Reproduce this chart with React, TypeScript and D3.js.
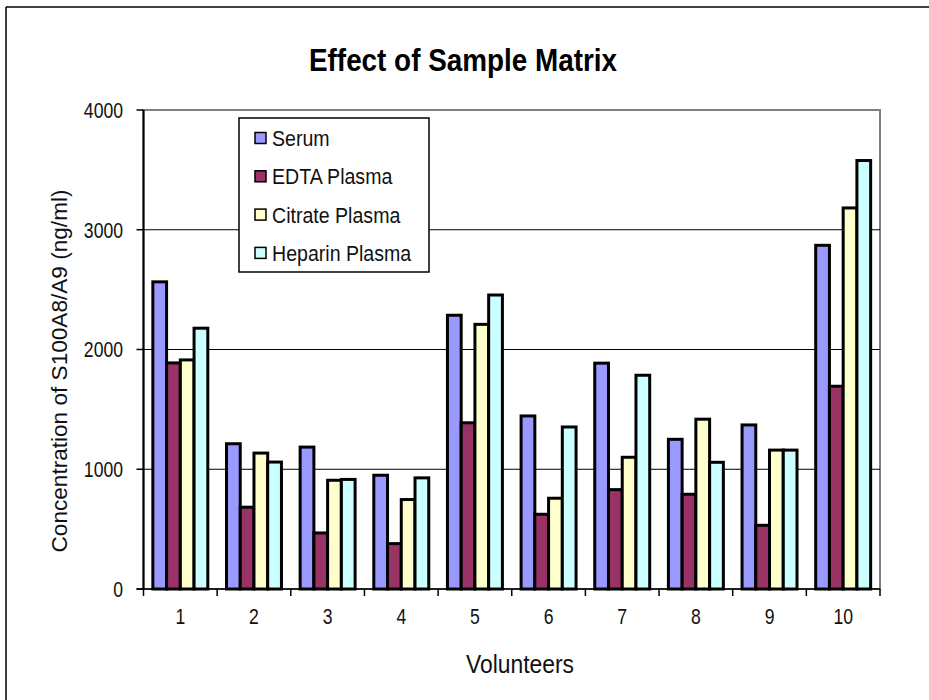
import * as d3 from "d3";
import * as React from "react";

// values
const volunteers = ["1", "2", "3", "4", "5", "6", "7", "8", "9", "10"];
const seriesNames = ["Serum", "EDTA Plasma", "Citrate Plasma", "Heparin Plasma"];
const serum = [2565, 1213, 1185, 950, 2286, 1445, 1886, 1250, 1370, 2870];
const edta = [1888, 683, 468, 379, 1388, 624, 830, 791, 532, 1693];
const citrate = [1913, 1135, 908, 747, 2210, 758, 1100, 1418, 1160, 3182];
const heparin = [2178, 1060, 915, 928, 2455, 1353, 1785, 1058, 1160, 3578];
const yTicks = [0, 1000, 2000, 3000, 4000];
const colors = ["#9999FF", "#993366", "#FFFFCC", "#CCFFFF"];

const W = 929;
const H = 700;
const margin = { top: 110, right: 49, bottom: 111, left: 143.5 };
const font = "'Liberation Sans Narrow', 'Liberation Sans', Arial, sans-serif";

export default function App() {
  const values = [serum, edta, citrate, heparin];

  const x0 = d3.scaleBand<string>()
    .domain(volunteers)
    .range([margin.left, W - margin.right])
    .padding(0);

  const x1 = d3.scaleBand<string>()
    .domain(seriesNames)
    .range([0, x0.bandwidth()])
    .paddingInner(0)
    .paddingOuter(0.68);

  const y = d3.scaleLinear()
    .domain([0, 4000])
    .range([H - margin.bottom, margin.top]);

  const left = margin.left;
  const right = W - margin.right;
  const top = margin.top;
  const bottom = H - margin.bottom;

  // the reference font is a condensed sans, so squeeze the glyphs a little
  const squeeze = 0.8;

  return (
    <div style={{ position: "absolute", left: 0, top: 0 }}>
      <svg width={W} height={H} style={{ display: "block", background: "white" }}>
        {/* outer frame (only top and left visible) */}
        <line x1={6} y1={7} x2={W} y2={7} stroke="black" strokeWidth={1.5} />
        <line x1={6} y1={7} x2={6} y2={H} stroke="black" strokeWidth={1.5} />

        <text x={463} y={71} textAnchor="middle" fontFamily={font} fontWeight="bold"
          fontSize={32} textLength={308} lengthAdjust="spacingAndGlyphs">
          Effect of Sample Matrix
        </text>

        {/* plot area border */}
        <rect x={left} y={top} width={right - left} height={bottom - top}
          fill="white" stroke="#808080" strokeWidth={2} />

        {/* gridlines */}
        {yTicks.filter(t => t > 0 && t < 4000).map(t => (
          <line key={"g" + t} x1={left} x2={right} y1={y(t)} y2={y(t)} stroke="black" strokeWidth={1} />
        ))}

        {/* bars */}
        {volunteers.map((v, i) => (
          <g key={v} transform={`translate(${x0(v)},0)`}>
            {seriesNames.map((s, j) => (
              <rect key={s}
                x={x1(s)!}
                y={y(values[j][i])}
                width={x1.bandwidth()}
                height={y(0) - y(values[j][i])}
                fill={colors[j]}
                stroke="black"
                strokeWidth={3} />
            ))}
          </g>
        ))}

        {/* y axis */}
        <line x1={left} x2={left} y1={top} y2={bottom + 1} stroke="black" strokeWidth={2} />
        {yTicks.map(t => (
          <g key={"y" + t}>
            <line x1={left - 7} x2={left} y1={y(t)} y2={y(t)} stroke="black" strokeWidth={1.5} />
            <text transform={`translate(123,${y(t)}) scale(${squeeze},1)`} dy="0.36em" textAnchor="end"
              fontFamily={font} fontSize={22} fill="#111">
              {t}
            </text>
          </g>
        ))}

        {/* x axis */}
        <line x1={left - 7} x2={right} y1={bottom} y2={bottom} stroke="black" strokeWidth={1.5} />
        {d3.range(volunteers.length + 1).map(k => {
          const xx = left + k * x0.step();
          return <line key={"t" + k} x1={xx} x2={xx} y1={bottom} y2={bottom + 7} stroke="black" strokeWidth={1.5} />;
        })}
        {volunteers.map(v => (
          <text key={"xl" + v} transform={`translate(${x0(v)! + x0.bandwidth() / 2},624) scale(${squeeze},1)`}
            textAnchor="middle" fontFamily={font} fontSize={22} fill="#111">
            {v}
          </text>
        ))}

        <text x={520} y={673} textAnchor="middle" fontFamily={font} fontSize={25}
          textLength={108} lengthAdjust="spacingAndGlyphs" fill="#111">
          Volunteers
        </text>

        <text transform={`translate(67,371) rotate(-90)`} textAnchor="middle" fontFamily={font}
          fontSize={21.5} textLength={363} lengthAdjust="spacingAndGlyphs" fill="#111">
          Concentration of S100A8/A9 (ng/ml)
        </text>

        {/* legend */}
        <g>
          <rect x={239} y={118} width={190} height={154} fill="white" stroke="black" strokeWidth={1.5} />
          {seriesNames.map((s, j) => {
            const cy = 138 + j * 38.3;
            return (
              <g key={"l" + s}>
                <rect x={255} y={cy - 5.5} width={11} height={11} fill={colors[j]} stroke="black" strokeWidth={1.5} />
                <text transform={`translate(272,${cy}) scale(0.89,1)`} dy="0.36em"
                  fontFamily={font} fontSize={22} fill="#111">
                  {s}
                </text>
              </g>
            );
          })}
        </g>
      </svg>
    </div>
  );
}
